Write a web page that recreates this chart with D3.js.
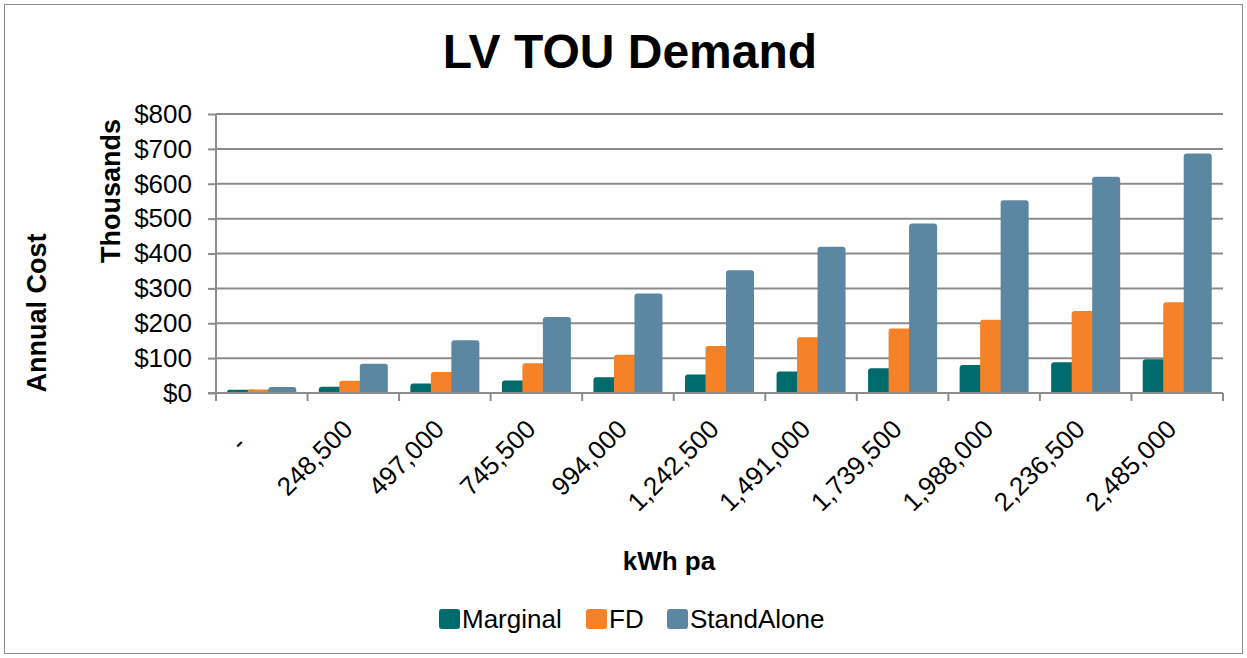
<!DOCTYPE html>
<html>
<head>
<meta charset="utf-8">
<script src="https://cdn.jsdelivr.net/npm/d3@7"></script>
<style>
	body { margin: 0; background: #fff; }
	text { font-family: "Liberation Sans", Arial, sans-serif; }
</style>
</head>
<body>
<svg id="chart" width="1247" height="658"></svg>
<script>
"use strict";

var categories = ["-", "248,500", "497,000", "745,500", "994,000", "1,242,500", "1,491,000", "1,739,500", "1,988,000", "2,236,500", "2,485,000"];
var seriesNames = ["Marginal", "FD", "StandAlone"];
var marginal = [9, 18, 27, 36, 45, 53, 62, 71, 80, 88, 97];
var fd = [10, 35, 60, 85, 110, 135, 160, 185, 210, 235, 260];
var standAlone = [17, 84, 151, 218, 285, 352, 419, 486, 553, 620, 687];
var yTicks = [0, 100, 200, 300, 400, 500, 600, 700, 800];
var colors = ["#006b6d", "#f58226", "#5b87a2"];

var series = [marginal, fd, standAlone];

var svg = d3.select("#chart");
var margin = { left: 216, right: 1223, top: 114, bottom: 393 };

// Outer border
svg.append("rect")
	.attr("x", 4.5).attr("y", 4.5)
	.attr("width", 1238).attr("height", 649)
	.attr("fill", "#fff").attr("stroke", "#8c8c8c").attr("stroke-width", 1);

var x = d3.scaleBand()
	.domain(categories)
	.range([margin.left, margin.right]);

var y = d3.scaleLinear()
	.domain([0, 800])
	.range([margin.bottom, margin.top]);

// Gridlines
svg.append("g").selectAll("line")
	.data(yTicks.slice(1))
	.enter().append("line")
		.attr("x1", margin.left).attr("x2", margin.right)
		.attr("y1", function(d) { return y(d); })
		.attr("y2", function(d) { return y(d); })
		.attr("stroke", "#8c8c8c").attr("stroke-width", 2);

// Bars: each bar overlaps the previous one a bit
var barW = 28, step = 20.5;
var groupW = step * 2 + barW;
var bars = svg.append("g");
for (var s = 0; s < series.length; s++) {
	bars.append("g").selectAll("path")
		.data(series[s])
		.enter().append("path")
			.attr("fill", colors[s])
			.attr("d", function(d, i) {
				var x0 = x(categories[i]) + (x.bandwidth() - groupW) / 2 + step * s;
				var y0 = y(d), y1 = y(0);
				var r = Math.min(3, (y1 - y0) / 2);
				return "M" + x0 + "," + y1 +
					"V" + (y0 + r) +
					"Q" + x0 + "," + y0 + " " + (x0 + r) + "," + y0 +
					"H" + (x0 + barW - r) +
					"Q" + (x0 + barW) + "," + y0 + " " + (x0 + barW) + "," + (y0 + r) +
					"V" + y1 + "Z";
			});
}

// Y axis
var yAxis = svg.append("g")
	.attr("transform", "translate(" + margin.left + ",0)")
	.call(d3.axisLeft(y).tickValues(yTicks).tickSize(8).tickPadding(16)
		.tickFormat(function(d) { return "$" + d; }));
yAxis.select(".domain").attr("stroke", "#8c8c8c").attr("stroke-width", 2).attr("d", "M0," + margin.top + "V" + (margin.bottom + 8));
yAxis.selectAll(".tick line").attr("stroke", "#8c8c8c").attr("stroke-width", 2);
yAxis.selectAll(".tick text").attr("font-size", 26).attr("fill", "#000");

// X axis
var xAxis = svg.append("g")
	.attr("transform", "translate(0," + margin.bottom + ")");
xAxis.append("line")
	.attr("x1", margin.left - 8).attr("x2", margin.right)
	.attr("stroke", "#8c8c8c").attr("stroke-width", 2);
xAxis.selectAll(".xtick")
	.data(d3.range(categories.length + 1))
	.enter().append("line")
		.attr("x1", function(i) { return margin.left + i * x.step(); })
		.attr("x2", function(i) { return margin.left + i * x.step(); })
		.attr("y1", 0).attr("y2", 8)
		.attr("stroke", "#8c8c8c").attr("stroke-width", 2);
xAxis.selectAll(".xlabel")
	.data(categories)
	.enter().append("text")
		.attr("transform", function(d) {
			var cx = x(d) + x.bandwidth() / 2 - 12;
			return "translate(" + cx + ",25) rotate(-45)";
		})
		.attr("text-anchor", "end")
		.attr("dy", "0.7em")
		.attr("font-size", 26)
		.attr("xml:space", "preserve")
		.text(function(d) { return d === "-" ? "-   " : d; });

// Titles
svg.append("text")
	.attr("x", 630).attr("y", 68)
	.attr("text-anchor", "middle")
	.attr("font-size", 48).attr("font-weight", "bold")
	.text("LV TOU Demand");

svg.append("text")
	.attr("transform", "translate(120,191) rotate(-90)")
	.attr("text-anchor", "middle")
	.attr("font-size", 27).attr("font-weight", "bold")
	.text("Thousands");

svg.append("text")
	.attr("transform", "translate(46,313) rotate(-90)")
	.attr("text-anchor", "middle")
	.attr("font-size", 27).attr("font-weight", "bold")
	.text("Annual Cost");

svg.append("text")
	.attr("x", 669).attr("y", 570)
	.attr("text-anchor", "middle")
	.attr("font-size", 26).attr("font-weight", "bold")
	.text("kWh pa");

// Legend
var legendX = [439, 586, 667];
var legend = svg.append("g").selectAll("g")
	.data(seriesNames)
	.enter().append("g")
		.attr("transform", function(d, i) { return "translate(" + legendX[i] + ",609)"; });
legend.append("rect")
	.attr("width", 21).attr("height", 20).attr("rx", 3)
	.attr("fill", function(d, i) { return colors[i]; });
legend.append("text")
	.attr("x", 23).attr("y", 19)
	.attr("font-size", 26)
	.text(function(d) { return d; });
</script>
</body>
</html>
